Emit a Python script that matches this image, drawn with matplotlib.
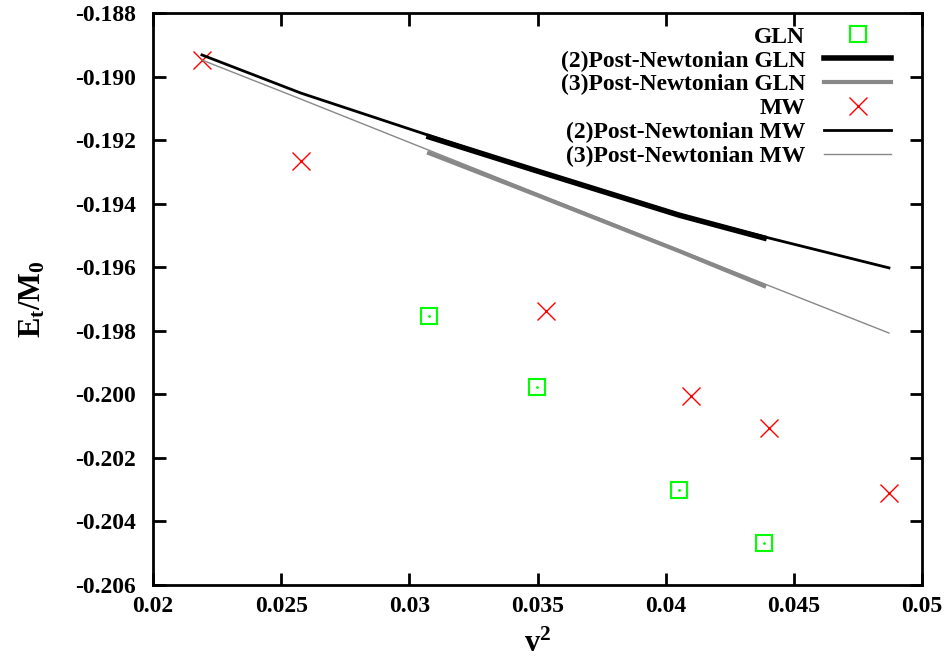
import matplotlib
matplotlib.use('Agg')
import matplotlib.pyplot as plt
from matplotlib.ticker import FormatStrFormatter, FuncFormatter

plt.rcParams['font.family'] = ['Liberation Serif', 'DejaVu Serif']
plt.rcParams['font.weight'] = 'bold'
plt.rcParams['mathtext.fontset'] = 'custom'
plt.rcParams['mathtext.rm'] = 'Liberation Serif:bold'
plt.rcParams['mathtext.bf'] = 'Liberation Serif:bold'

# data
gln_v2 = [0.03077, 0.03498, 0.04052, 0.04384]
gln_e = [-0.19754, -0.19977, -0.20301, -0.20468]
gln_pn2 = [-0.19190, -0.19297, -0.19436, -0.19508]
gln_pn3 = [-0.19241, -0.19373, -0.19549, -0.19659]

mw_v2 = [0.02191, 0.02577, 0.03533, 0.04099, 0.04403, 0.04871]
mw_e = [-0.18948, -0.19266, -0.19738, -0.20005, -0.20106, -0.20310]
mw_pn2 = [-0.18932, -0.19052, -0.19307, -0.19445, -0.19508, -0.19602]
mw_pn3 = [-0.18948, -0.19071, -0.19379, -0.19560, -0.19658, -0.19807]

xticks = [0.02, 0.025, 0.03, 0.035, 0.04, 0.045, 0.05]
yticks = [-0.188, -0.190, -0.192, -0.194, -0.196, -0.198, -0.200,
          -0.202, -0.204, -0.206]

fig = plt.figure(figsize=(9.48, 6.6), dpi=100)
ax = fig.add_axes([0.1614, 0.1136, 0.8112, 0.8667])

ax.plot(gln_v2, gln_e, 's', ms=12, mfc='none', mec='#00ff00', mew=1.5, label='GLN')
ax.plot(gln_v2, gln_e, '.', ms=2, color='#00ff00')
ax.plot(gln_v2, gln_pn2, '-', color='black', lw=4.0, label='(2)Post-Newtonian GLN')
ax.plot(gln_v2, gln_pn3, '-', color='#888888', lw=3.0, label='(3)Post-Newtonian GLN')
ax.plot(mw_v2, mw_e, 'x', ms=13, color='#ff0000', mew=1.0, label='MW')
ax.plot(mw_v2, mw_pn2, '-', color='black', lw=2.0, label='(2)Post-Newtonian MW')
ax.plot(mw_v2, mw_pn3, '-', color='#888888', lw=1.0, label='(3)Post-Newtonian MW')

ax.set_xlim(0.02, 0.05)
ax.set_ylim(-0.206, -0.188)
ax.set_xticks(xticks)
ax.set_yticks(yticks)
ax.xaxis.set_major_formatter(FuncFormatter(lambda v, p: '%g' % v))
ax.yaxis.set_major_formatter(FormatStrFormatter('%.3f'))
ax.tick_params(direction='in', length=9, width=2, top=True, right=True,
               labelsize=17)
ax.tick_params(axis='x', pad=8)
ax.tick_params(axis='y', pad=12)
for lab in ax.get_xticklabels() + ax.get_yticklabels():
    lab.set_fontweight('bold')
for s in ax.spines.values():
    s.set_linewidth(2)

ax.set_xlabel(r'$\mathbf{v^2}$', fontsize=22, labelpad=9)
ax.set_ylabel(r'$\mathbf{E_t/M_0}$', fontsize=22, labelpad=20)

h, l = ax.get_legend_handles_labels()
leg = ax.legend(h, l, loc='upper right', markerfirst=False, frameon=False,
                fontsize=17, handlelength=2.85, handletextpad=0.8,
                labelspacing=0.1, borderpad=0, borderaxespad=0,
                bbox_to_anchor=(0.96, 0.977))
for t in leg.get_texts():
    t.set_fontweight('bold')

fig.savefig('out.png', dpi=100)
